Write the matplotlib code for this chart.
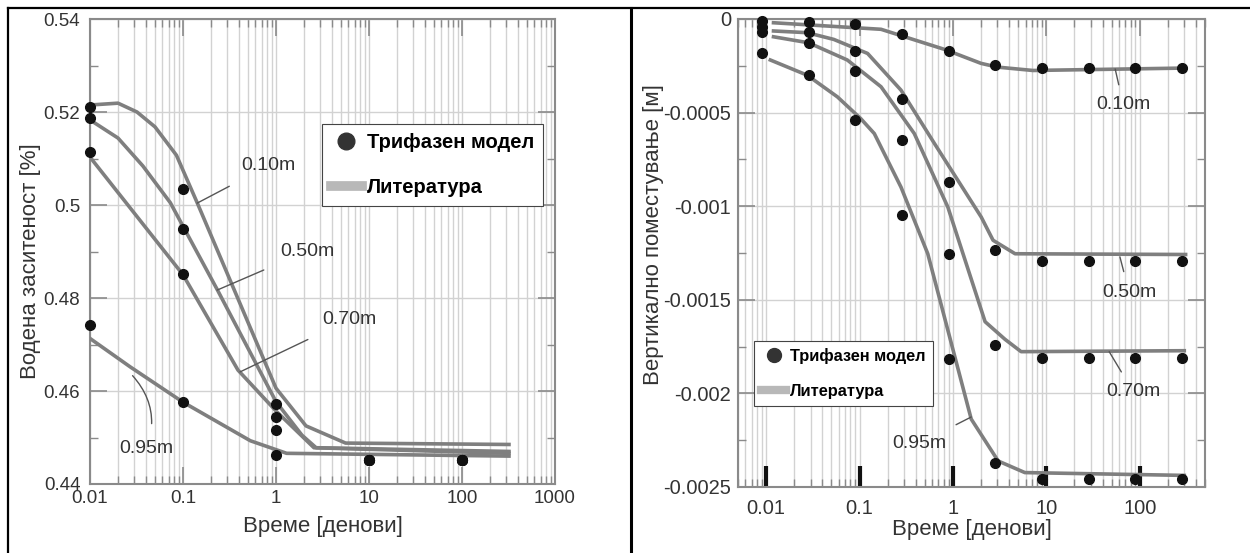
import numpy as np
import matplotlib
matplotlib.use("Agg")
import matplotlib.pyplot as plt
from matplotlib.lines import Line2D
from matplotlib.ticker import LogLocator, MultipleLocator, FuncFormatter, NullFormatter

plt.rcParams['font.family'] = ['Liberation Sans', 'DejaVu Sans']

# ---- left panel: water saturation ----
t_pts_L = [0.01, 0.1, 1, 10, 100]
sat_pts_010 = [0.5210, 0.5034, 0.4572, 0.4451, 0.4451]
sat_pts_050 = [0.5187, 0.4949, 0.4545, 0.4451, 0.4451]
sat_pts_070 = [0.5115, 0.4851, 0.4517, 0.4451, 0.4451]
sat_pts_095 = [0.4741, 0.4576, 0.4463, 0.4451, 0.4451]

t_lit_010 = [0.01, 0.02, 0.032, 0.05, 0.085, 0.142, 1.0, 2.1, 5.6, 320]
sat_lit_010 = [0.5215, 0.5219, 0.5200, 0.5168, 0.5107, 0.5005, 0.4606, 0.4525, 0.4488, 0.4485]
t_lit_050 = [0.01, 0.02, 0.037, 0.073, 0.235, 1.0, 1.9, 2.7, 320]
sat_lit_050 = [0.5183, 0.5144, 0.5084, 0.5005, 0.4817, 0.4577, 0.4505, 0.4478, 0.4470]
t_lit_070 = [0.01, 0.1, 0.39, 1.0, 2.56, 320]
sat_lit_070 = [0.5103, 0.4850, 0.4645, 0.4557, 0.4478, 0.4466]
t_lit_095 = [0.01, 0.027, 0.1, 0.53, 1.3, 320]
sat_lit_095 = [0.4713, 0.4652, 0.4576, 0.4493, 0.4466, 0.4460]

# ---- right panel: vertical displacement ----
t_pts_R = [0.009, 0.0285, 0.09, 0.285, 0.9, 2.85, 9, 28.5, 90, 285]
d_pts_010 = [-0.000009, -0.000014, -0.000028, -0.000080, -0.000170, -0.000248, -0.000261, -0.000261, -0.000261, -0.000261]
d_pts_050 = [-0.000041, -0.000070, -0.000170, -0.000430, -0.000871, -0.001235, -0.001295, -0.001295, -0.001295, -0.001295]
d_pts_070 = [-0.000068, -0.000127, -0.000277, -0.000648, -0.001258, -0.001739, -0.001811, -0.001811, -0.001811, -0.001811]
d_pts_095 = [-0.000184, -0.000301, -0.000541, -0.001049, -0.001816, -0.002371, -0.002457, -0.002457, -0.002457, -0.002457]

t_lr_010 = [0.012, 0.17, 0.82, 2.0, 3.0, 7.2, 310]
d_lr_010 = [-0.000020, -0.000055, -0.000163, -0.000237, -0.000257, -0.000275, -0.000262]
t_lr_050 = [0.012, 0.0275, 0.053, 0.122, 0.278, 0.634, 2.01, 2.69, 4.63, 310]
d_lr_050 = [-0.000064, -0.000073, -0.000109, -0.000184, -0.00038, -0.000665, -0.001058, -0.001182, -0.001254, -0.001258]
t_lr_070 = [0.012, 0.0285, 0.074, 0.17, 0.386, 0.883, 2.21, 3.61, 5.37, 300]
d_lr_070 = [-0.000095, -0.000127, -0.000219, -0.000362, -0.000612, -0.001005, -0.001617, -0.001711, -0.001777, -0.001772]
t_lr_095 = [0.0111, 0.0275, 0.058, 0.103, 0.144, 0.278, 0.538, 1.57, 3.05, 5.89, 300]
d_lr_095 = [-0.000219, -0.0003, -0.000416, -0.000532, -0.000612, -0.000898, -0.001254, -0.002137, -0.002361, -0.002423, -0.002438]

depth_labels = ['0.10m', '0.50m', '0.70m', '0.95m']

LINE_C = '#7f7f7f'
DOT_C = '#111111'
GRID_C = '#d2d2d2'
SPINE_C = '#8a8a8a'
TXT_C = '#333333'

fig = plt.figure(figsize=(12.5, 5.53), dpi=100)


def style_axes(ax, lsize, ypad, xpad):
    ax.set_xscale('log')
    for s in ax.spines.values():
        s.set_color(SPINE_C)
        s.set_linewidth(1.5)
    ax.xaxis.set_major_locator(LogLocator(base=10, numticks=20))
    ax.xaxis.set_minor_locator(LogLocator(base=10, subs=np.arange(2, 10), numticks=20))
    ax.xaxis.set_minor_formatter(NullFormatter())
    ax.xaxis.set_major_formatter(FuncFormatter(lambda v, p: '%g' % v))
    ax.yaxis.set_major_formatter(FuncFormatter(lambda v, p: '%g' % round(v, 6)))
    ax.grid(True, which='both', axis='x', color=GRID_C, lw=1.0)
    ax.grid(True, which='major', axis='y', color=GRID_C, lw=1.0)
    ax.tick_params(which='both', direction='in', top=True, right=True, colors=SPINE_C,
                   labelcolor=TXT_C, labelsize=lsize)
    ax.tick_params(which='major', length=12, width=1.2)
    ax.tick_params(which='minor', length=6, width=1.0)
    ax.tick_params(axis='y', which='major', pad=ypad)
    ax.tick_params(axis='x', which='major', pad=xpad)
    ax.set_axisbelow(True)


ann_kw = dict(fontsize=14, color=TXT_C, ha='center', va='center')

# left
axL = fig.add_axes([90 / 1250, 1 - 484 / 553, 465 / 1250, 465 / 553])
style_axes(axL, 13.5, 7, 4)
axL.set_xlim(0.01, 1000)
axL.set_ylim(0.44, 0.54)
axL.yaxis.set_major_locator(MultipleLocator(0.02))
axL.yaxis.set_minor_locator(MultipleLocator(0.01))

for tl, sl in [(t_lit_010, sat_lit_010), (t_lit_050, sat_lit_050),
               (t_lit_070, sat_lit_070), (t_lit_095, sat_lit_095)]:
    axL.plot(tl, sl, color=LINE_C, lw=2.6, zorder=3)
for sp in [sat_pts_010, sat_pts_050, sat_pts_070, sat_pts_095]:
    axL.plot(t_pts_L, sp, 'o', color=DOT_C, ms=7, clip_on=False, zorder=4)

axL.annotate(depth_labels[0], xy=(0.142, 0.5004), xytext=(0.82, 0.5084),
             arrowprops=dict(arrowstyle='-', color='#555555', lw=1, shrinkA=14, shrinkB=0), **ann_kw)
axL.annotate(depth_labels[1], xy=(0.233, 0.4817), xytext=(2.2, 0.4901),
             arrowprops=dict(arrowstyle='-', color='#555555', lw=1, shrinkA=14, shrinkB=0), **ann_kw)
axL.annotate(depth_labels[2], xy=(0.41, 0.4641), xytext=(6.1, 0.4753),
             arrowprops=dict(arrowstyle='-', color='#555555', lw=1, shrinkA=14, shrinkB=0), **ann_kw)
axL.annotate(depth_labels[3], xy=(0.0287, 0.4633), xytext=(0.0406, 0.4476),
             arrowprops=dict(arrowstyle='-', color='#555555', lw=1, shrinkA=10, shrinkB=0,
                             connectionstyle='arc3,rad=0.3'), **ann_kw)

axL.set_xlabel('Време [денови]', fontsize=16, color=TXT_C, labelpad=7)
axL.set_ylabel('Водена заситеност [%]', fontsize=16, color=TXT_C)
axL.yaxis.set_label_coords(-0.105, 0.48)

hL = [Line2D([], [], ls='none', marker='o', color='#333333', ms=12),
      Line2D([], [], color='#b8b8b8', lw=7)]
legL = axL.legend(hL, ['Трифазен модел', 'Литература'], loc='upper right',
                  bbox_to_anchor=(0.975, 0.774), frameon=True, fancybox=False,
                  edgecolor='#444444', framealpha=1, borderaxespad=0,
                  prop={'weight': 'bold', 'size': 14.5}, labelspacing=1.3,
                  handlelength=1.55, handletextpad=0.25, borderpad=0.45)
legL.get_frame().set_linewidth(0.8)

# right
axR = fig.add_axes([738 / 1250, 1 - 487 / 553, 467 / 1250, 468 / 553])
style_axes(axR, 14.5, 5, 9)
axR.set_xlim(0.005, 500)
axR.set_ylim(-0.0025, 0)
axR.yaxis.set_major_locator(MultipleLocator(0.0005))
axR.yaxis.set_minor_locator(MultipleLocator(0.00025))

for tl, dl in [(t_lr_010, d_lr_010), (t_lr_050, d_lr_050),
               (t_lr_070, d_lr_070), (t_lr_095, d_lr_095)]:
    axR.plot(tl, dl, color=LINE_C, lw=2.6, zorder=3)
for dp in [d_pts_010, d_pts_050, d_pts_070, d_pts_095]:
    axR.plot(t_pts_R, dp, 'o', color=DOT_C, ms=7, clip_on=False, zorder=4)

axR.annotate(depth_labels[0], xy=(54.6, -0.000267), xytext=(66.5, -0.000455),
             arrowprops=dict(arrowstyle='-', color='#555555', lw=1, shrinkA=6, shrinkB=0), **ann_kw)
axR.annotate(depth_labels[1], xy=(61.4, -0.001271), xytext=(77, -0.00146),
             arrowprops=dict(arrowstyle='-', color='#555555', lw=1, shrinkA=7, shrinkB=0), **ann_kw)
axR.annotate(depth_labels[2], xy=(47.1, -0.001777), xytext=(85, -0.00199),
             arrowprops=dict(arrowstyle='-', color='#555555', lw=1, shrinkA=7, shrinkB=0), **ann_kw)
axR.annotate(depth_labels[3], xy=(1.57, -0.002126), xytext=(0.434, -0.002268),
             arrowprops=dict(arrowstyle='-', color='#555555', lw=1, shrinkA=12, shrinkB=0), **ann_kw)

axR.set_xlabel('Време [денови]', fontsize=16, color=TXT_C, labelpad=0)
axR.set_ylabel('Вертикално поместување [м]', fontsize=16, color=TXT_C)
axR.yaxis.set_label_coords(-0.158, 0.54)

# thick black major ticks on the bottom spine
fig.canvas.draw()
for tk in axR.xaxis.get_major_ticks():
    tk.tick1line.set_markeredgecolor('#111111')
    tk.tick1line.set_markeredgewidth(3)
    tk.tick1line.set_markersize(15)

hR = [Line2D([], [], ls='none', marker='o', color='#333333', ms=10),
      Line2D([], [], color='#b8b8b8', lw=6)]
legR = axR.legend(hR, ['Трифазен модел', 'Литература'], loc='upper left',
                  bbox_to_anchor=(0.034, 0.313), frameon=True, fancybox=False,
                  edgecolor='#444444', framealpha=1, borderaxespad=0,
                  prop={'weight': 'bold', 'size': 11.8}, labelspacing=1.2,
                  handlelength=1.5, handletextpad=0.25, borderpad=0.45)
legR.get_frame().set_linewidth(0.8)

# panel frame lines
fig.add_artist(Line2D([8 / 1250, 1.0], [1 - 8 / 553, 1 - 8 / 553], color='black', lw=1.6))
fig.add_artist(Line2D([8 / 1250, 8 / 1250], [0, 1 - 8 / 553], color='black', lw=1.6))
fig.add_artist(Line2D([631 / 1250, 631 / 1250], [0, 1 - 8 / 553], color='black', lw=2.2))

fig.savefig('out.png', dpi=100, facecolor='white')
